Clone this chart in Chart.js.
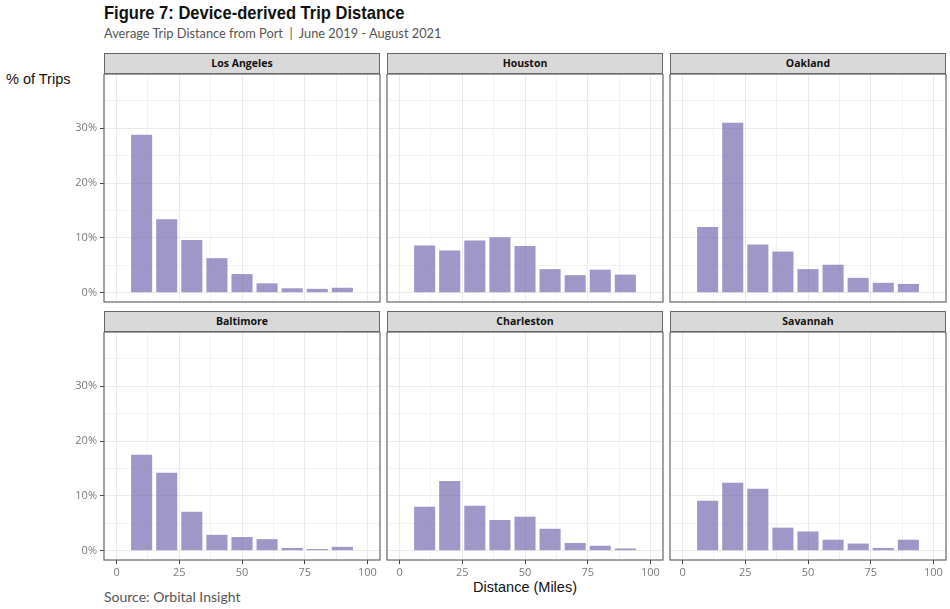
<!DOCTYPE html>
<html>
<head>
<meta charset="utf-8">
<script src="https://cdn.jsdelivr.net/npm/chart.js@4.4.1/dist/chart.umd.min.js"></script>
<style>
  body { margin: 0; background: #fff; width: 950px; height: 609px; overflow: hidden; position: relative; }
  .title { position: absolute; left: 104px; top: 2px; font: bold 19px "Liberation Sans", sans-serif; color: #111;
           transform: scaleX(0.87); transform-origin: left top; white-space: nowrap; }
  .subtitle { position: absolute; left: 104px; top: 25px; font: 12.8px Lato, sans-serif; color: #555; }
  .ylab { position: absolute; left: 6px; top: 71px; font: 14.5px "Liberation Sans", sans-serif; color: #111; }
  .xlab { position: absolute; left: 0; width: 1050px; top: 579px; text-align: center; font: 14.5px "Liberation Sans", sans-serif; color: #111; }
  .source { position: absolute; left: 104px; top: 588px; font: 14px Lato, sans-serif; color: #555; }
  .strip { position: absolute; box-sizing: border-box; height: 21px; background: #d9d9d9; border: 1px solid #666;
           font: bold 10.5px "Open Sans", sans-serif; color: #111; text-align: center; line-height: 19px; }
  canvas { position: absolute; }
</style>
</head>
<body>
<div class="title">Figure 7: Device-derived Trip Distance</div>
<div class="subtitle">Average Trip Distance from Port &nbsp;|&nbsp; June 2019 - August 2021</div>
<div class="ylab">% of Trips</div>
<div class="xlab">Distance (Miles)</div>
<div class="source">Source: Orbital Insight</div>

<script>
// bins of 10 miles, centred on these distances
const binCenters = [10, 20, 30, 40, 50, 60, 70, 80, 90];

// share of trips (%) per bin
const losAngeles = [28.8, 13.4, 9.6, 6.3, 3.4, 1.7, 0.8, 0.7, 0.9];
const houston    = [8.6, 7.7, 9.5, 10.1, 8.5, 4.3, 3.2, 4.2, 3.3];
const oakland    = [12.0, 31.0, 8.8, 7.5, 4.3, 5.1, 2.7, 1.8, 1.6];
const baltimore  = [17.5, 14.2, 7.1, 2.9, 2.5, 2.1, 0.5, 0.3, 0.7];
const charleston = [8.0, 12.7, 8.2, 5.6, 6.2, 4.0, 1.4, 0.9, 0.4];
const savannah   = [9.1, 12.4, 11.3, 4.2, 3.5, 2.0, 1.3, 0.5, 2.0];

const ports = ['Los Angeles', 'Houston', 'Oakland', 'Baltimore', 'Charleston', 'Savannah'];
const portValues = [losAngeles, houston, oakland, baltimore, charleston, savannah];

// axis ticks (major get labels, minor only gridlines)
const yTicks = [0, 10, 20, 30];
const yMinor = [5, 15, 25, 35];
const xTicks = [0, 25, 50, 75, 100];
const xMinor = [12.5, 37.5, 62.5, 87.5];

Chart.defaults.font.family = '"Open Sans", sans-serif';
Chart.defaults.font.size = 11;
Chart.defaults.color = '#7a7a7a';

// panel geometry
const colLeft = [104, 387, 670];
const rowTop = [74, 332];
const panelW = 276, panelH = 228;
const axisW = 40, axisH = 30, padR = 12;

// draws the box round each panel
const panelBorder = {
    id: 'panelBorder',
    afterDraw(chart) {
        const a = chart.chartArea, ctx = chart.ctx;
        ctx.save();
        ctx.strokeStyle = '#666';
        ctx.lineWidth = 1.2;
        ctx.strokeRect(a.left, a.top, a.right - a.left, a.bottom - a.top);
        ctx.restore();
    }
};

function zeroPad(scale) {
    scale.paddingTop = 0; scale.paddingBottom = 0;
    scale.paddingLeft = 0; scale.paddingRight = 0;
}

function isMajor(c, list) {
    return !!(c.tick && list.includes(c.tick.value));
}

ports.forEach(function(name, i) {
    const col = i % 3, row = Math.floor(i / 3);
    const showY = col === 0, showX = row === 1;

    // strip header
    const strip = document.createElement('div');
    strip.className = 'strip';
    strip.textContent = name;
    strip.style.left = colLeft[col] + 'px';
    strip.style.top = (rowTop[row] - 21) + 'px';
    strip.style.width = panelW + 'px';
    document.body.appendChild(strip);

    const canvas = document.createElement('canvas');
    canvas.style.left = (colLeft[col] - axisW) + 'px';
    canvas.style.top = rowTop[row] + 'px';
    canvas.style.width = (panelW + axisW + padR) + 'px';
    canvas.style.height = (panelH + axisH) + 'px';
    canvas.width = panelW + axisW + padR;
    canvas.height = panelH + axisH;
    document.body.appendChild(canvas);

    new Chart(canvas.getContext('2d'), {
        type: 'bar',
        data: {
            datasets: [{
                data: binCenters.map((x, k) => ({ x: x, y: portValues[i][k] })),
                backgroundColor: 'rgba(117, 107, 177, 0.7)',
                borderWidth: 0,
                barPercentage: 0.84,
                categoryPercentage: 1
            }]
        },
        options: {
            responsive: false,
            animation: false,
            layout: { padding: { right: padR } },
            plugins: { legend: { display: false }, tooltip: { enabled: false } },
            scales: {
                x: {
                    type: 'linear',
                    offset: false,
                    min: -5,
                    max: 105,
                    afterBuildTicks: s => { s.ticks = xTicks.concat(xMinor).sort((a, b) => a - b).map(v => ({ value: v })); },
                    afterFit: s => { s.height = axisH; zeroPad(s); },
                    border: { display: false },
                    grid: {
                        offset: false,
                        color: '#ebebeb',
                        lineWidth: c => isMajor(c, xTicks) ? 1 : 0.6,
                        tickLength: 4,
                        tickColor: c => (showX && isMajor(c, xTicks)) ? '#444' : 'rgba(0,0,0,0)'
                    },
                    ticks: {
                        display: showX,
                        autoSkip: false,
                        maxRotation: 0,
                        padding: 2,
                        callback: v => xTicks.includes(v) ? String(v) : ''
                    }
                },
                y: {
                    min: -1.7,
                    max: 39.9,
                    afterBuildTicks: s => { s.ticks = yTicks.concat(yMinor).sort((a, b) => a - b).map(v => ({ value: v })); },
                    afterFit: s => { s.width = axisW; zeroPad(s); },
                    border: { display: false },
                    grid: {
                        color: '#ebebeb',
                        lineWidth: c => isMajor(c, yTicks) ? 1 : 0.6,
                        tickLength: 4,
                        tickColor: c => (showY && isMajor(c, yTicks)) ? '#444' : 'rgba(0,0,0,0)'
                    },
                    ticks: {
                        display: showY,
                        autoSkip: false,
                        padding: 3,
                        callback: v => yTicks.includes(v) ? v + '%' : ''
                    }
                }
            }
        },
        plugins: [panelBorder]
    });
});
</script>
</body>
</html>
